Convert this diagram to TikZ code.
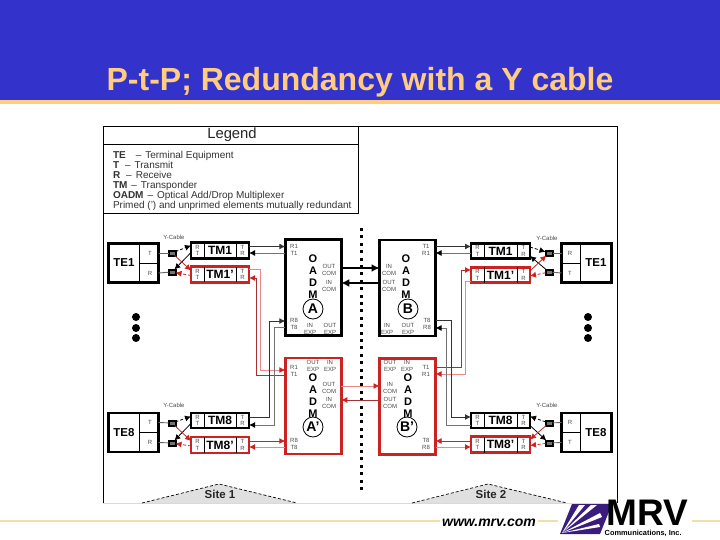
\documentclass[tikz,border=0pt]{standalone}
\usepackage{fontspec}
\setmainfont{Liberation Sans}
\usetikzlibrary{arrows.meta,calc}
\definecolor{band}{RGB}{51,51,204}
\definecolor{gold}{RGB}{255,204,128}
\definecolor{paleg}{RGB}{240,224,165}
\definecolor{rbox}{RGB}{204,34,34}
\definecolor{rdark}{RGB}{165,50,50}
\definecolor{rlight}{RGB}{240,135,135}
\definecolor{purp}{RGB}{58,28,125}
\tikzset{
  box/.style={draw=black,line width=2.6pt,fill=white,inner sep=0,outer sep=0},
  redbox/.style={box,draw=rbox},
  small/.style={inner sep=0,outer sep=0,align=center,text=black!70,font=\fontsize{6}{6.6}\selectfont},
  midlab/.style={inner sep=0,outer sep=0,font=\bfseries\fontsize{12}{12}\selectfont},
  letters/.style={inner sep=0,outer sep=0,align=center,font=\bfseries\fontsize{11}{12}\selectfont},
  ring/.style={draw=black,circle,line width=.8pt,minimum size=20pt,inner sep=0,outer sep=0,font=\bfseries\fontsize{14}{14}\selectfont},
  thinl/.style={line width=.8pt},
  blk/.style={line width=.9pt,draw=black!80,-{Latex[length=6pt,width=6pt]}},
  gry/.style={line width=.9pt,draw=black!55,-{Latex[length=6pt,width=6pt,color=black]}},
  big/.style={line width=1.8pt,draw=black,-{Latex[length=8pt,width=8pt]}},
  rda/.style={line width=.9pt,draw=rdark,-{Latex[length=6pt,width=6pt,color=rbox]}},
  rli/.style={line width=.9pt,draw=rlight,-{Latex[length=6pt,width=6pt,color=rbox]}},
  yblack/.style={line width=.8pt,draw=black,-{Latex[length=6pt,width=6pt]}},
  yred/.style={line width=.8pt,draw=rbox,-{Latex[length=6pt,width=6pt]}},
  stub/.style={line width=.9pt,draw=black!60},
  ybox/.style={draw=black,fill=black!55,line width=2pt,minimum width=7pt,minimum height=5pt,inner sep=0,outer sep=0},
  bigdot/.style={circle,fill=black,minimum size=8pt,inner sep=0,outer sep=0},
  sitelab/.style={inner sep=0,outer sep=0,text=black!85,font=\bfseries\fontsize{11.5}{11.5}\selectfont},
  legendline/.style={inner sep=0,outer sep=0,anchor=base west,text=black!80,font=\fontsize{10}{10}\selectfont},
}
% TM box: name, x, y, w, h, label, style
\newcommand\tmbox[7]{%
  \node[#7,minimum width=#4pt,minimum height=#5pt] (#1) at (#2,#3) {};
  \draw[thinl] ($(#1.north west)+(13,0)$) -- ($(#1.south west)+(13,0)$);
  \draw[thinl] ($(#1.north east)+(-13,0)$) -- ($(#1.south east)+(-13,0)$);
  \node[midlab] (#1lab) at (#1.center) {#6};
  \node[small] (#1l) at ($(#1.west)+(6.5,0)$) {R\\T};
  \node[small] (#1r) at ($(#1.east)+(-6.5,0)$) {T\\R};
}
% TE box: name, x, y, label, top letter, bottom letter, cell side (1 right / -1 left)
\newcommand\tebox[7]{%
  \node[box,minimum width=50pt,minimum height=39pt] (#1) at (#2,#3) {};
  \draw[thinl] ($(#1.north)+(#7*6,0)$) -- ($(#1.south)+(#7*6,0)$);
  \draw[thinl] ($(#1.center)+(#7*6,0)$) -- ($(#1.center)+(#7*25,0)$);
  \node[font=\bfseries\fontsize{11.5}{12}\selectfont,inner sep=0] (#1lab) at ($(#1.center)+(#7*-9.5,0)$) {#4};
  \node[small] (#1t) at ($(#1.center)+(#7*16.5,-10)$) {#5};
  \node[small] (#1b) at ($(#1.center)+(#7*16.5,10)$) {#6};
}
% OADM text helper
\newcommand\lab[4]{\node[small] (#1) at (#2,#3) {#4};}
\begin{document}
\begin{tikzpicture}[x=1pt,y=-1pt]
\useasboundingbox (0,0) rectangle (720,540);
\fill[white] (0,0) rectangle (720,540);
% header
\fill[band] (0,0) rectangle (720,100);
\fill[gold] (0,100) rectangle (720,104);
\node[inner sep=0,anchor=base,text=gold,font=\bfseries\fontsize{32}{32}\selectfont] (title) at (360,91) {P-t-P; Redundancy with a Y cable};
% frame
\draw[line width=.9pt] (103,503) -- (103,126) -- (617,126) -- (617,503);
\draw[line width=.9pt,black!15] (103,503.5) -- (617,503.5);
\draw[line width=.8pt] (358,126) -- (358,213) -- (103,213);
\draw[line width=.8pt] (103,144) -- (358,144);
\node[inner sep=0,text=black!85,font=\fontsize{14.8}{15}\selectfont] (legtitle) at (232,135) {Legend};
\node[legendline] (l1) at (113,158.5) {\textbf{TE}\hspace{1em}--\hspace{.4em}Terminal Equipment};
\node[legendline] (l2) at (113,168.5) {\textbf{T}\hspace{.6em}--\hspace{.4em}Transmit};
\node[legendline] (l3) at (113,178.5) {\textbf{R}\hspace{.6em}--\hspace{.4em}Receive};
\node[legendline] (l4) at (113,188.5) {\textbf{TM}\hspace{.4em}--\hspace{.4em}Transponder};
\node[legendline] (l5) at (113,198.5) {\textbf{OADM}\hspace{.4em}--\hspace{.4em}Optical Add/Drop Multiplexer};
\node[legendline] (l6) at (113,208.5) {Primed (') and unprimed elements mutually redundant};
% site triangles
\coordinate (s1a) at (142,503); \coordinate (s1b) at (219,484); \coordinate (s1c) at (297,503);
\coordinate (s2a) at (412,503); \coordinate (s2b) at (488,484); \coordinate (s2c) at (567,503);
\fill[black!12] (s1a) -- (s1b) -- (s1c) -- cycle;
\fill[black!12] (s2a) -- (s2b) -- (s2c) -- cycle;
\draw[densely dashed,line width=.7pt] (s1a) -- (s1b) -- (s1c);
\draw[densely dashed,line width=.7pt] (s2a) -- (s2b) -- (s2c);
\node[sitelab] (site1) at (220,494) {Site 1};
\node[sitelab] (site2) at (491,494) {Site 2};
% centre dotted line
\coordinate (dt) at (361,228); \coordinate (db) at (361,490);
\draw[line width=3pt,dash pattern=on 3pt off 4.4pt] (dt) -- (db);
% big dots
\foreach \n/\yy in {a/317,b/328,c/338}{
  \node[bigdot] (dl\n) at (136,\yy) {};
  \node[bigdot] (dr\n) at (588,\yy) {};
}
% OADMs
\node[box,minimum width=56pt,minimum height=96pt] (A) at (313.3,287.5) {};
\node[box,minimum width=56pt,minimum height=96pt] (B) at (407.5,288) {};
\node[redbox,minimum width=56pt,minimum height=96pt] (Ap) at (313.3,406) {};
\node[redbox,minimum width=56pt,minimum height=96pt] (Bp) at (407.5,406.5) {};
\node[letters] (Al) at (313,277) {O\\A\\D\\M};
\node[letters] (Bl) at (406,277) {O\\A\\D\\M};
\node[letters] (Apl) at (313,396) {O\\A\\D\\M};
\node[letters] (Bpl) at (408,396) {O\\A\\D\\M};
\node[ring] (Ac) at (313,309) {A};
\node[ring] (Bc) at (408,309) {B};
\node[ring] (Apc) at (313,427) {A'};
\node[ring] (Bpc) at (407,427) {B'};
\lab{a1}{294}{250}{R1\\T1}
\lab{a2}{329}{270}{OUT\\COM}
\lab{a3}{329}{286}{IN\\COM}
\lab{a4}{294}{324}{R8\\T8}
\lab{a5}{310}{329}{IN\\EXP}
\lab{a6}{330}{329}{OUT\\EXP}
\lab{b1}{426}{250}{T1\\R1}
\lab{b2}{389}{270}{IN\\COM}
\lab{b3}{389}{286}{OUT\\COM}
\lab{b4}{427}{324}{T8\\R8}
\lab{b5}{387}{329}{IN\\EXP}
\lab{b6}{408}{329}{OUT\\EXP}
\lab{c1}{294}{371}{R1\\T1}
\lab{c2}{313}{366}{OUT\\EXP}
\lab{c3}{330}{366}{IN\\EXP}
\lab{c4}{329}{388}{OUT\\COM}
\lab{c5}{329}{403}{IN\\COM}
\lab{c6}{294}{444}{R8\\T8}
\lab{d1}{426}{371}{T1\\R1}
\lab{d2}{390}{366}{OUT\\EXP}
\lab{d3}{407}{366}{IN\\EXP}
\lab{d4}{390}{388}{IN\\COM}
\lab{d5}{390}{403}{OUT\\COM}
\lab{d6}{426}{444}{T8\\R8}
% TM boxes
\tmbox{tl1}{220}{250.5}{58}{16}{TM1}{box}
\tmbox{tl1p}{220}{274.5}{58}{15.5}{TM1'}{redbox}
\tmbox{tl8}{220}{420.5}{58}{15}{TM8}{box}
\tmbox{tl8p}{220}{445}{58}{16}{TM8'}{redbox}
\tmbox{tr1}{500.5}{251}{59}{15.5}{TM1}{box}
\tmbox{tr1p}{500.5}{275}{59}{15.5}{TM1'}{redbox}
\tmbox{tr8}{500.5}{420.5}{59}{15}{TM8}{box}
\tmbox{tr8p}{500.5}{444.5}{59}{16}{TM8'}{redbox}
% TE boxes
\tebox{el1}{133.5}{263}{TE1}{T}{R}{1}
\tebox{el8}{133.5}{432.5}{TE8}{T}{R}{1}
\tebox{er1}{586.5}{263}{TE1}{R}{T}{-1}
\tebox{er8}{586.5}{432.5}{TE8}{R}{T}{-1}
% Y connectors
\node[ybox] (yl1a) at (172,253) {}; \node[ybox] (yl1b) at (172,272) {};
\node[ybox] (yl8a) at (172,423) {}; \node[ybox] (yl8b) at (172,443) {};
\node[ybox] (yr1a) at (549,253) {}; \node[ybox] (yr1b) at (549,272) {};
\node[ybox] (yr8a) at (549,423) {}; \node[ybox] (yr8b) at (549,443) {};
\lab{yc1}{174}{237.5}{Y-Cable}
\lab{yc2}{174}{405}{Y-Cable}
\lab{yc3}{547}{238}{Y-Cable}
\lab{yc4}{547}{405}{Y-Cable}
% TE to Y connector stubs
\draw[stub] (el1t-|el1.east) -- (yl1a);
\draw[stub] (el1b-|el1.east) -- (yl1b);
\draw[stub] (el8t-|el8.east) -- (yl8a);
\draw[stub] (el8b-|el8.east) -- (yl8b);
\draw[stub] (er1t-|er1.west) -- (yr1a);
\draw[stub] (er1b-|er1.west) -- (yr1b);
\draw[stub] (er8t-|er8.west) -- (yr8a);
\draw[stub] (er8b-|er8.west) -- (yr8b);
% Y connectors to TMs: left
\draw[yblack,densely dashed] (yl1a) -- ([yshift=5pt]tl1.west);
\draw[yblack] ([yshift=-2pt]tl1.west) -- (yl1b);
\draw[yred] (yl1a) -- ([yshift=4pt]tl1p.west);
\draw[yred,densely dashed] ([yshift=-1pt]tl1p.west) -- (yl1b);
\draw[yblack,densely dashed] (yl8a) -- ([yshift=4pt]tl8.west);
\draw[yblack] ([yshift=-3pt]tl8.west) -- (yl8b);
\draw[yred] (yl8a) -- ([yshift=4pt]tl8p.west);
\draw[yred,densely dashed] ([yshift=-1pt]tl8p.west) -- (yl8b);
% right
\draw[yblack,densely dashed] ([yshift=4pt]tr1.east) -- (yr1a);
\draw[yblack] (yr1b) -- ([yshift=-5pt]tr1.east);
\draw[yred] ([yshift=4pt]tr1p.east) -- (yr1a);
\draw[yred,densely dashed] (yr1b) -- ([yshift=-1pt]tr1p.east);
\draw[yblack,densely dashed] (yr8a) -- ([yshift=4pt]tr8.east);
\draw[yblack] ([yshift=-5pt]tr8.east) -- (yr8b);
\draw[yred] (yr8a) -- ([yshift=5pt]tr8p.east);
\draw[yred,densely dashed] (yr8b) -- ([yshift=-1pt]tr8p.east);
% OADM - TM connectors: site 1
\draw[blk] (tl1.east|-0,246.5) -- (A.west|-0,246.5);
\draw[gry] (A.west|-0,253) -- (tl1.east|-0,253);
\draw[rli] (tl1p.east|-0,269) -- (260,269) -- (260,370) -- (Ap.west|-0,370);
\draw[rda] (Ap.west|-0,375) -- (256,375) -- (256,278) -- (tl1p.east|-0,278);
\draw[blk] (tl8.east|-0,417) -- (269,417) -- (269,321) -- (A.west|-0,321);
\draw[gry] (A.west|-0,327) -- (274,327) -- (274,425) -- (tl8.east|-0,425);
\draw[rda] (tl8p.east|-0,441) -- (Ap.west|-0,441);
\draw[rli] (Ap.west|-0,447) -- (tl8p.east|-0,447);
% site 2
\draw[blk] (B.east|-0,246.5) -- (tr1.west|-0,246.5);
\draw[gry] (tr1.west|-0,253) -- (B.east|-0,253);
\draw[rda] (Bp.east|-0,367) -- (461,367) -- (461,270) -- (tr1p.west|-0,270);
\draw[rli] (tr1p.west|-0,281) -- (465,281) -- (465,374) -- (Bp.east|-0,374);
\draw[blk] (B.east|-0,320) -- (451,320) -- (451,417) -- (tr8.west|-0,417);
\draw[gry] (tr8.west|-0,425) -- (446,425) -- (446,328) -- (B.east|-0,328);
\draw[rda] (tr8p.west|-0,441) -- (Bp.east|-0,441);
\draw[rli] (Bp.east|-0,447) -- (tr8p.west|-0,447);
% between sites
\draw[big] (A.east|-0,268) -- (B.west|-0,268);
\draw[big] (B.west|-0,283) -- (A.east|-0,283);
\draw[rli] (Ap.east|-0,386) -- (Bp.west|-0,386);
\draw[rda] (Bp.west|-0,400) -- (Ap.east|-0,400);
% footer lines
\draw[paleg,line width=1.6pt] (0,521) -- (440,521);
\draw[paleg,line width=1.6pt] (538,521) -- (558,521);
\draw[paleg,line width=1.6pt] (692,521) -- (720,521);
\node[inner sep=0,anchor=base west,font=\bfseries\itshape\fontsize{14}{14}\selectfont] (url) at (442,526) {www.mrv.com};
% logo
\fill[purp] (560,534) -- (572,504) -- (612,504) -- (600,534) -- cycle;
\fill[white] (562,533) -- (579,505) -- (585,505) -- cycle;
\fill[white] (562,533) -- (591,505) -- (597,505) -- cycle;
\fill[white] (562,533) -- (600,513) -- (602,517) -- cycle;
\fill[white] (562,533) -- (599,524) -- (600,527) -- cycle;
\node[inner sep=0,anchor=base west,font=\bfseries\fontsize{37}{37}\selectfont] (mrv) at (606,525) {MRV};
\node[inner sep=0,anchor=base west,font=\bfseries\fontsize{7.4}{8}\selectfont] (comm) at (604.5,535) {Communications, Inc.};
\end{tikzpicture}
\end{document}
